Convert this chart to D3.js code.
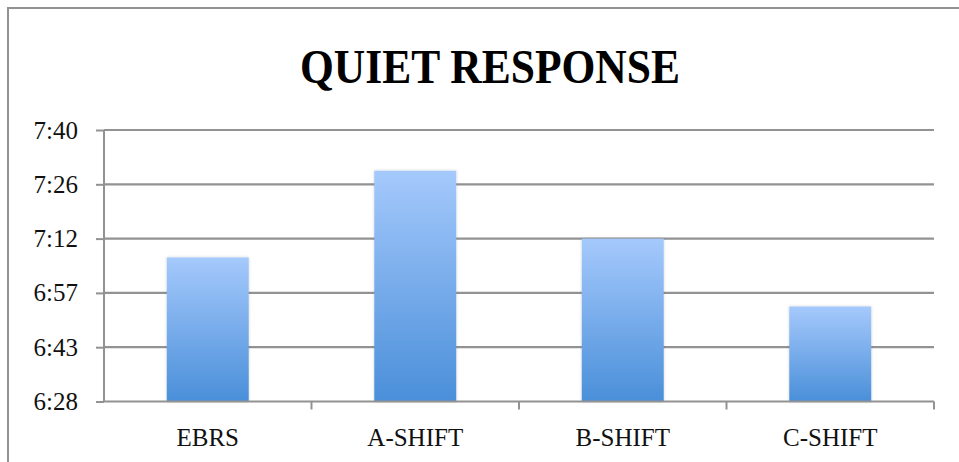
<!DOCTYPE html>
<html>
<head>
<meta charset="utf-8">
<script src="https://cdn.jsdelivr.net/npm/d3@7"></script>
<style>
  html, body { margin: 0; padding: 0; background: #fff; }
  svg { display: block; }
</style>
</head>
<body>
<svg id="chart" width="959" height="462"></svg>
<script>
// Chart data (times are h:mm, stored as Excel day fractions)
const categories = ['EBRS', 'A-SHIFT', 'B-SHIFT', 'C-SHIFT'];
const responseTimes = ['7:07', '7:30', '7:12', '6:54'];
const tickValues = [0.27, 0.28, 0.29, 0.30, 0.31, 0.32];
const tickLabels = ['6:28', '6:43', '6:57', '7:12', '7:26', '7:40'];

// turn "h:mm" into the same day-fraction units as the axis
function toDayFraction (str) {
  let parts = str.split(':').map(Number);
  return (parts[0] * 60 + parts[1]) / 1440;
}

const values = responseTimes.map(toDayFraction);

const svg = d3.select('#chart');
const margin = { top: 130, right: 25, bottom: 60.5, left: 104 };
const width = 959 - margin.left - margin.right,
  height = 462 - margin.top - margin.bottom;
const font = '"Liberation Serif", "DejaVu Serif", serif';
const gray = '#929292';

// outer frame of the chart area
svg.append('rect')
  .attr('x', 8).attr('y', 8)
  .attr('width', 980).attr('height', 480)
  .attr('fill', 'none')
  .attr('stroke', gray)
  .attr('stroke-width', 2);

svg.append('text')
  .attr('x', 490).attr('y', 83)
  .attr('text-anchor', 'middle')
  .attr('font-family', font)
  .attr('font-weight', 'bold')
  .attr('font-size', 48)
  .attr('textLength', 380)
  .attr('lengthAdjust', 'spacingAndGlyphs')
  .attr('fill', '#000')
  .text('QUIET RESPONSE');

const defs = svg.append('defs');
let grad = defs.append('linearGradient')
  .attr('id', 'barFill')
  .attr('x1', 0).attr('y1', 0).attr('x2', 0).attr('y2', 1);
grad.append('stop').attr('offset', '0%').attr('stop-color', '#a5c9fc');
grad.append('stop').attr('offset', '100%').attr('stop-color', '#4a8fd9');

let shadow = defs.append('filter').attr('id', 'barShadow')
  .attr('x', '-10%').attr('y', '-10%').attr('width', '120%').attr('height', '120%');
shadow.append('feDropShadow')
  .attr('dx', 0).attr('dy', 0).attr('stdDeviation', 1.5)
  .attr('flood-color', '#000').attr('flood-opacity', 0.18);

const g = svg.append('g').attr('transform', `translate(${margin.left},${margin.top})`);

const x = d3.scaleBand()
  .domain(categories)
  .range([0, width])
  .paddingInner(0.605)
  .paddingOuter(0.3025);

const y = d3.scaleLinear()
  .domain([tickValues[0], tickValues[tickValues.length - 1]])
  .range([height, 0]);

// horizontal gridlines
g.append('g')
  .selectAll('line')
  .data(tickValues.slice(1))
  .enter().append('line')
  .attr('x1', 0).attr('x2', width)
  .attr('y1', d => y(d)).attr('y2', d => y(d))
  .attr('stroke', gray)
  .attr('stroke-width', 2.2);

// bars
g.append('g')
  .selectAll('rect')
  .data(values)
  .enter().append('rect')
  .attr('x', (d, i) => x(categories[i]))
  .attr('y', d => y(d))
  .attr('width', x.bandwidth())
  .attr('height', d => height - y(d))
  .attr('fill', 'url(#barFill)')
  .attr('filter', 'url(#barShadow)');

// y axis
const yAxis = d3.axisLeft(y)
  .tickValues(tickValues)
  .tickFormat((d, i) => tickLabels[i])
  .tickSize(8)
  .tickPadding(18);

const yg = g.append('g').call(yAxis);
yg.select('.domain').attr('stroke', gray).attr('stroke-width', 2).attr('d', `M-8,0.5V${height}`).attr('transform', 'translate(8,0)');
yg.selectAll('.tick line').attr('stroke', gray).attr('stroke-width', 2);
yg.selectAll('.tick text')
  .attr('font-family', font)
  .attr('font-size', 25)
  .attr('fill', '#111');

// x axis: ticks sit on category boundaries, labels at band centres
const boundaries = d3.range(categories.length + 1).map(i => i * x.step());
const xg = g.append('g').attr('transform', `translate(0,${height})`);
xg.append('line')
  .attr('x1', 0).attr('x2', width)
  .attr('stroke', gray).attr('stroke-width', 2.2);
xg.selectAll('.xtick')
  .data(boundaries.slice(1))
  .enter().append('line')
  .attr('class', 'xtick')
  .attr('x1', d => d).attr('x2', d => d)
  .attr('y1', 0).attr('y2', 8)
  .attr('stroke', gray).attr('stroke-width', 2);
xg.selectAll('.xlabel')
  .data(categories)
  .enter().append('text')
  .attr('class', 'xlabel')
  .attr('x', d => x(d) + x.bandwidth() / 2)
  .attr('y', 44)
  .attr('text-anchor', 'middle')
  .attr('font-family', font)
  .attr('font-size', 25)
  .attr('fill', '#111')
  .text(d => d);
</script>
</body>
</html>
